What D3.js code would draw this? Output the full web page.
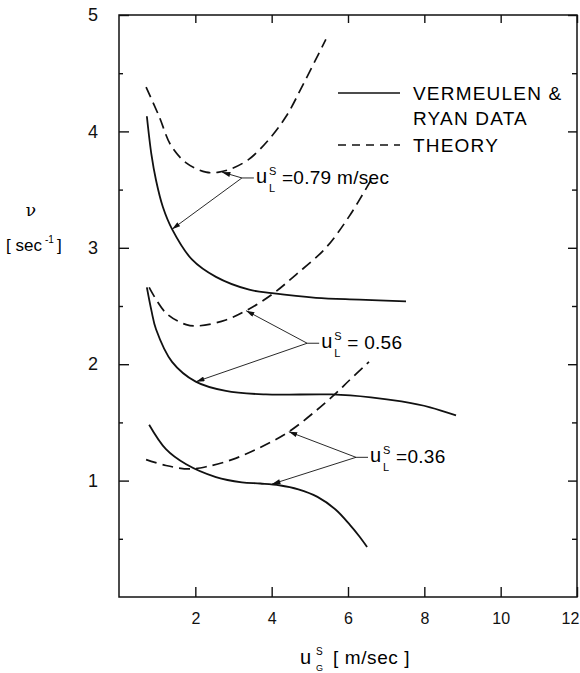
<!DOCTYPE html>
<html>
<head>
<meta charset="utf-8">
<script src="https://cdn.jsdelivr.net/npm/d3@7"></script>
<style>
  body { margin: 0; background: #fff; }
  svg { display: block; font-family: "Liberation Sans", Arial, sans-serif; }
  .tick line { stroke: #111; stroke-width: 1.4; }
  .tick text { font-size: 16px; fill: #111; }
</style>
</head>
<body>
<svg id="chart" width="580" height="673"></svg>
<script>
// tick values
const xTickVals = [2, 4, 6, 8, 10, 12];
const yTickVals = [1, 2, 3, 4, 5];
const yMinorVals = [0.5, 1.5, 2.5, 3.5, 4.5];

// Vermeulen & Ryan data (solid)
const data079 = [[0.73,4.13],[0.85,3.80],[0.97,3.58],[1.15,3.35],[1.39,3.16],[1.91,2.90],[2.54,2.75],[3.41,2.64],[4.01,2.61],[5.16,2.57],[6.3,2.555],[7.52,2.54]];
const data056 = [[0.73,2.66],[0.85,2.46],[0.97,2.30],[1.39,2.02],[2.01,1.85],[2.8,1.77],[3.85,1.74],[5.58,1.74],[6.6,1.715],[7.4,1.68],[8.15,1.63],[8.83,1.56]];
const data036 = [[0.79,1.48],[1.23,1.27],[1.76,1.14],[2.54,1.03],[3.22,0.985],[3.7,0.975],[4.2,0.96],[4.7,0.925],[5.2,0.86],[5.68,0.75],[6.05,0.62],[6.3,0.52],[6.5,0.43]];

// theory (dashed)
const theory079 = [[0.71,4.38],[1.05,4.13],[1.36,3.88],[1.76,3.73],[2.28,3.65],[2.62,3.65],[2.95,3.68],[3.4,3.76],[3.9,3.92],[4.38,4.13],[4.85,4.42],[5.42,4.79]];
const theory056 = [[0.79,2.66],[1.23,2.44],[1.76,2.34],[2.1,2.33],[2.8,2.38],[3.33,2.46],[4.01,2.60],[4.64,2.77],[5.42,3.00],[6.03,3.27],[6.6,3.58]];
const theory036 = [[0.71,1.18],[1.23,1.13],[1.83,1.10],[2.3,1.12],[2.96,1.18],[3.67,1.28],[4.45,1.42],[5.16,1.60],[5.68,1.75],[6.03,1.86],[6.55,2.02]];

// u_L^S labels: junction point, label text, arrow targets (dashed, solid)
const callouts = [
  { text: "=0.79 m/sec", at: [3.22, 3.60], targets: [[2.70, 3.65], [1.39, 3.16]] },
  { text: "= 0.56",      at: [4.93, 2.18], targets: [[3.33, 2.46], [2.02, 1.85]] },
  { text: "=0.36",       at: [6.21, 1.20], targets: [[4.45, 1.42], [4.01, 0.97]] }
];

const legendItems = [
  { lines: ["VERMEULEN &", "RYAN DATA"], dashed: false },
  { lines: ["THEORY"], dashed: true }
];

const svg = d3.select("#chart");

const x = d3.scaleLinear().domain([0, 12]).range([119, 577]);
const y = d3.scaleLinear().domain([0, 5]).range([597, 15]);

const [x0, x1] = x.range();
const [y0, y1] = y.range();

// axes (ticks point inward)
function clean(g) { g.select(".domain").remove(); }

svg.append("g")
  .attr("transform", `translate(0,${y0})`)
  .call(d3.axisBottom(x).tickValues(xTickVals).tickSize(-10).tickPadding(16).tickFormat(d3.format("d")))
  .call(clean)
  .selectAll("text").filter(d => d === 12).attr("dx", -7);

svg.append("g")
  .attr("transform", `translate(0,${y1})`)
  .call(d3.axisTop(x).tickValues(xTickVals).tickSize(-8).tickFormat(""))
  .call(clean);

svg.append("g")
  .attr("transform", `translate(${x0},0)`)
  .call(d3.axisLeft(y).tickValues(yTickVals).tickSize(-10).tickPadding(21).tickFormat(d3.format("d")))
  .call(clean)
  .selectAll("text").style("font-size", "18px");

svg.append("g")
  .attr("transform", `translate(${x0},0)`)
  .call(d3.axisLeft(y).tickValues(yMinorVals).tickSize(-4).tickFormat(""))
  .call(clean);

svg.append("g")
  .attr("transform", `translate(${x1},0)`)
  .call(d3.axisRight(y).tickValues(yTickVals).tickSize(-9).tickFormat(""))
  .call(clean);

svg.append("g")
  .attr("transform", `translate(${x1},0)`)
  .call(d3.axisRight(y).tickValues(yMinorVals).tickSize(-5).tickFormat(""))
  .call(clean);

// frame
svg.append("rect")
  .attr("x", x0).attr("y", y1)
  .attr("width", x1 - x0).attr("height", y0 - y1)
  .attr("fill", "none").attr("stroke", "#111").attr("stroke-width", 1.5);

// curves
const line = d3.line()
  .x(d => x(d[0]))
  .y(d => y(d[1]))
  .curve(d3.curveCatmullRom.alpha(0.5));

[data079, data056, data036].forEach(s => {
  svg.append("path").datum(s)
    .attr("d", line)
    .attr("fill", "none").attr("stroke", "#111").attr("stroke-width", 1.8);
});

[theory079, theory056, theory036].forEach(s => {
  svg.append("path").datum(s)
    .attr("d", line)
    .attr("fill", "none").attr("stroke", "#111").attr("stroke-width", 1.7)
    .attr("stroke-dasharray", "11,6");
});

// arrowhead marker
svg.append("defs").append("marker")
  .attr("id", "arrow")
  .attr("viewBox", "0 0 10 6")
  .attr("refX", 10).attr("refY", 3)
  .attr("markerWidth", 9).attr("markerHeight", 5)
  .attr("markerUnits", "userSpaceOnUse")
  .attr("orient", "auto")
  .append("path").attr("d", "M0,0 L10,3 L0,6 Z").attr("fill", "#111");

// callouts
callouts.forEach(c => {
  const jx = x(c.at[0]), jy = y(c.at[1]);
  const g = svg.append("g");
  c.targets.forEach(t => {
    g.append("line")
      .attr("x1", jx).attr("y1", jy)
      .attr("x2", x(t[0])).attr("y2", y(t[1]))
      .attr("stroke", "#111").attr("stroke-width", 0.9)
      .attr("marker-end", "url(#arrow)");
  });
  g.append("line")
    .attr("x1", jx).attr("y1", jy).attr("x2", jx + 12).attr("y2", jy)
    .attr("stroke", "#111").attr("stroke-width", 0.9);
  g.append("text").attr("x", jx + 14).attr("y", jy + 5)
    .style("font-size", "20px").text("u");
  g.append("text").attr("x", jx + 27).attr("y", jy - 3)
    .style("font-size", "11px").text("S");
  g.append("text").attr("x", jx + 27).attr("y", jy + 14)
    .style("font-size", "11px").text("L");
  g.append("text").attr("x", jx + 40).attr("y", jy + 6)
    .style("font-size", "19px").style("letter-spacing", "0.3px").text(c.text);
});

// legend
const legend = svg.append("g").attr("transform", "translate(338,93)");
let ly = 0;
legendItems.forEach(item => {
  legend.append("line")
    .attr("x1", 0).attr("x2", 62).attr("y1", ly).attr("y2", ly)
    .attr("stroke", "#111").attr("stroke-width", 1.6)
    .attr("stroke-dasharray", item.dashed ? "8,6" : null);
  item.lines.forEach((t, i) => {
    legend.append("text")
      .attr("x", 75).attr("y", ly + 7 + i * 25)
      .style("font-size", "19px").style("letter-spacing", "1.2px")
      .text(t);
  });
  ly += item.lines.length * 26;
});

// axis titles
const xt = svg.append("g").attr("transform", "translate(300,664)");
xt.append("text").attr("x", 0).attr("y", 0).style("font-size", "20px").text("u");
xt.append("text").attr("x", 16).attr("y", -9).style("font-size", "10px").text("S");
xt.append("text").attr("x", 16).attr("y", 7).style("font-size", "9px").text("G");
xt.append("text").attr("x", 33).attr("y", 0).style("font-size", "19px").style("letter-spacing", "0.6px").text("[ m/sec ]");

const yt = svg.append("g");
yt.append("text").attr("x", 31).attr("y", 216).attr("text-anchor", "middle")
  .style("font-size", "17px").style("font-family", "DejaVu Serif, serif").text("ν");
yt.append("text").attr("x", 6).attr("y", 251).style("font-size", "17px").text("[ sec");
yt.append("text").attr("x", 45).attr("y", 243).style("font-size", "10px").text("-1");
yt.append("text").attr("x", 57).attr("y", 251).style("font-size", "17px").text("]");
</script>
</body>
</html>
